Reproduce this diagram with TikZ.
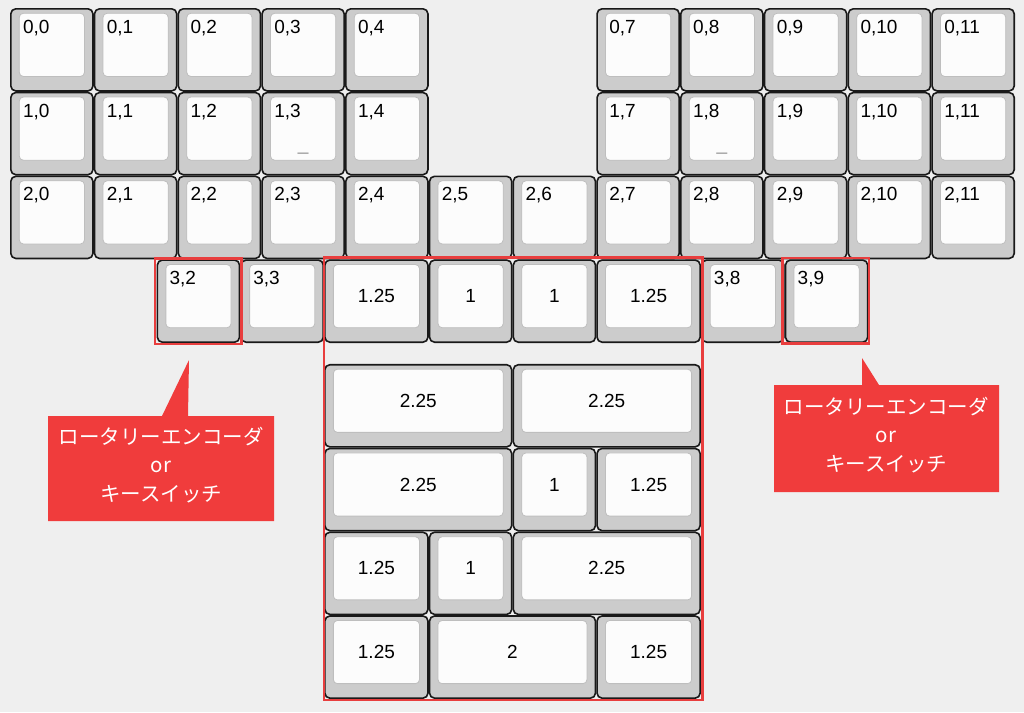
\documentclass[tikz,border=0pt]{standalone}
\usepackage{fontspec}
\setmainfont{Liberation Sans}
\newfontfamily\jpfont{Noto Sans CJK JP}
\definecolor{bg}{RGB}{239,239,239}
\definecolor{capside}{RGB}{204,204,204}
\definecolor{captop}{RGB}{252,252,252}
\definecolor{capedge}{RGB}{190,190,190}
\definecolor{hlred}{RGB}{232,62,62}
\definecolor{boxred}{RGB}{240,60,60}
\definecolor{homegray}{RGB}{150,150,150}
\tikzset{
  keyouter/.style={fill=capside, draw=black!90, line width=1.6pt, rounded corners=5pt},
  keyinner/.style={fill=captop, draw=capedge, line width=0.8pt, rounded corners=4pt},
  legend/.style={inner sep=0pt, font=\fontsize{19}{21}\selectfont, text=black},
  homing/.style={inner sep=0pt, font=\fontsize{19}{21}\selectfont, text=homegray},
  hlframe/.style={draw=hlred, line width=2.4pt},
  callout/.style={fill=boxred, draw=none},
  callouttext/.style={inner sep=0pt, align=center, text=white, font=\jpfont\fontsize{20.5}{28.5}\selectfont}
}
\def\U{83.75}
\newcommand\capgeom[3]{%
  \pgfmathsetmacro\xa{10+(#1)*\U+0.8}%
  \pgfmathsetmacro\xb{10+(#1+#3)*\U-0.8}%
  \pgfmathsetmacro\ya{8+(#2)*\U+0.8}%
  \pgfmathsetmacro\yb{8+(#2+1)*\U-0.8}%
  \draw[keyouter] (\xa,\ya) rectangle (\xb,\yb);
  \draw[keyinner] (\xa+8.5,\ya+4.5) rectangle (\xb-8.5,\yb-14.5);
}
% #1 name, #2 col, #3 row, #4 width (units), #5 legend
\newcommand\kcapTL[5]{%
  \capgeom{#2}{#3}{#4}%
  \node[legend, anchor=base west] (#1) at (\xa+12,\ya+24.5) {#5};
}
\newcommand\kcapC[5]{%
  \capgeom{#2}{#3}{#4}%
  \node[legend] (#1) at ({(\xa+\xb)/2},{(\ya+\yb-10)/2}) {#5};
}
\begin{document}
\begin{tikzpicture}[x=1pt,y=-1pt]
\useasboundingbox (0,0) rectangle (1024,712);
\fill[bg] (0,0) rectangle (1024,712);
% rows 0 and 1
\foreach \r in {0,1}{
  \foreach \c in {0,1,2,3,4,7,8,9,10,11}{
    \kcapTL{k\r-\c}{\c}{\r}{1}{\r,\c}
  }
}
% row 2
\foreach \c in {0,...,11}{
  \kcapTL{k2-\c}{\c}{2}{1}{2,\c}
}
% homing marks
\node[homing, anchor=base] (h13) at (303.1,150.5) {\_};
\node[homing, anchor=base] (h18) at (721.9,150.5) {\_};
% row 3
\kcapTL{k3-2}{1.75}{3}{1}{3,2}
\kcapTL{k3-3}{2.75}{3}{1}{3,3}
\kcapC{k3-a}{3.75}{3}{1.25}{1.25}
\kcapC{k3-b}{5}{3}{1}{1}
\kcapC{k3-c}{6}{3}{1}{1}
\kcapC{k3-d}{7}{3}{1.25}{1.25}
\kcapTL{k3-8}{8.25}{3}{1}{3,8}
\kcapTL{k3-9}{9.25}{3}{1}{3,9}
% alternative thumb layouts
\kcapC{a1}{3.75}{4.25}{2.25}{2.25}
\kcapC{a2}{6}{4.25}{2.25}{2.25}
\kcapC{b1}{3.75}{5.25}{2.25}{2.25}
\kcapC{b2}{6}{5.25}{1}{1}
\kcapC{b3}{7}{5.25}{1.25}{1.25}
\kcapC{c1}{3.75}{6.25}{1.25}{1.25}
\kcapC{c2}{5}{6.25}{1}{1}
\kcapC{c3}{6}{6.25}{2.25}{2.25}
\kcapC{d1}{3.75}{7.25}{1.25}{1.25}
\kcapC{d2}{5}{7.25}{2}{2}
\kcapC{d3}{7}{7.25}{1.25}{1.25}
% highlight frames
\draw[hlframe] (155,258.5) rectangle (241.5,344);
\draw[hlframe] (782.5,258) rectangle (869,343.5);
\draw[hlframe] (324,257.5) rectangle (702.5,700);
% callouts
\fill[callout] (48,416) -- (162,416) -- (189,360) -- (188,416) -- (274,416) -- (274,521) -- (48,521) -- cycle;
\node[callouttext] (t1) at (161,465) {ロータリーエンコーダ\\or\\キースイッチ};
\fill[callout] (774,385) -- (862,385) -- (862,358) -- (879,385) -- (999,385) -- (999,492) -- (774,492) -- cycle;
\node[callouttext] (t2) at (886,435) {ロータリーエンコーダ\\or\\キースイッチ};
\end{tikzpicture}
\end{document}
